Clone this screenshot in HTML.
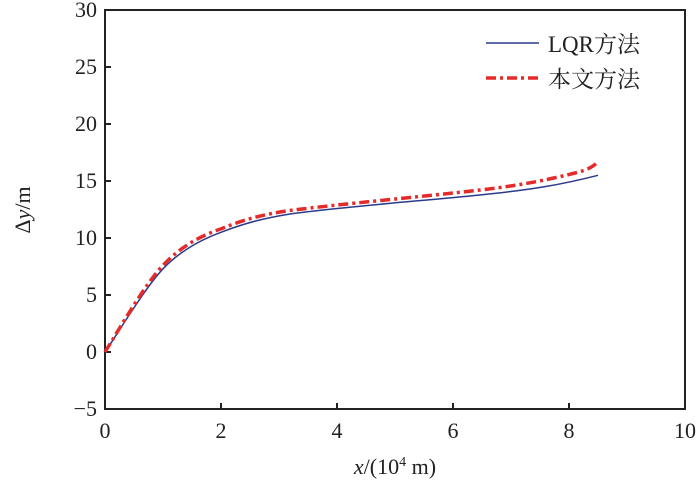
<!DOCTYPE html>
<html><head><meta charset="utf-8"><style>body{margin:0;background:#fff}svg text{font-family:"Liberation Serif","Noto Serif CJK SC",serif;fill:#222}</style></head><body>
<svg width="700" height="484" viewBox="0 0 700 484" xmlns="http://www.w3.org/2000/svg">
<rect x="105" y="10" width="580" height="399" fill="none" stroke="#222" stroke-width="2"/>
<g stroke="#222" stroke-width="2">
<line x1="221" y1="409" x2="221" y2="403"/><line x1="337" y1="409" x2="337" y2="403"/><line x1="453" y1="409" x2="453" y2="403"/><line x1="569" y1="409" x2="569" y2="403"/>
<line x1="105" y1="352" x2="111" y2="352"/><line x1="105" y1="295" x2="111" y2="295"/><line x1="105" y1="238" x2="111" y2="238"/><line x1="105" y1="181" x2="111" y2="181"/><line x1="105" y1="124" x2="111" y2="124"/><line x1="105" y1="67" x2="111" y2="67"/>
</g>
<g font-size="22" text-anchor="middle">
<text x="105" y="438">0</text><text x="221" y="438">2</text><text x="337" y="438">4</text><text x="453" y="438">6</text><text x="569" y="438">8</text><text x="685" y="438">10</text>
</g>
<g font-size="22" text-anchor="end">
<text x="97" y="416">−5</text><text x="97" y="359">0</text><text x="97" y="302">5</text><text x="97" y="245">10</text><text x="97" y="188">15</text><text x="97" y="131">20</text><text x="97" y="74">25</text><text x="97" y="17">30</text>
</g>
<text x="395" y="474" font-size="22" text-anchor="middle"><tspan font-style="italic">x</tspan>/(10<tspan font-size="14" dy="-8">4</tspan><tspan dy="8"> m)</tspan></text>
<text transform="translate(30,210) rotate(-90)" font-size="22" text-anchor="middle">Δ<tspan font-style="italic">y</tspan>/m</text>
<path fill="none" stroke="#2a3a8c" stroke-width="1.5" d="M105,352 C120,330 145,288 163,268.8 C180,251 200,240 221,232.3 C245,223 265,218 290,214 C340,207 420,201 480,195 C530,190 560,185 598,175.3"/>
<path fill="none" stroke="#e52a2a" stroke-width="3.5" stroke-dasharray="10,4,3,4" stroke-linejoin="round" d="M105,352 C120,328 145,284 163,265.4 C180,247 200,236 221,228.9 C245,219 265,214 290,210.5 C340,204 420,197 480,190 C525,185 555,178 575,173 C588,170 594,166 598,161.6"/>
<line x1="486" y1="43" x2="539" y2="43" stroke="#2a3a8c" stroke-width="1.5"/>
<line x1="486" y1="78" x2="539" y2="78" stroke="#e52a2a" stroke-width="3.5" stroke-dasharray="10,4,3,4"/>
<text x="548" y="52" font-size="23">LQR方法</text>
<text x="548" y="87" font-size="23">本文方法</text>
</svg>
</body></html>
